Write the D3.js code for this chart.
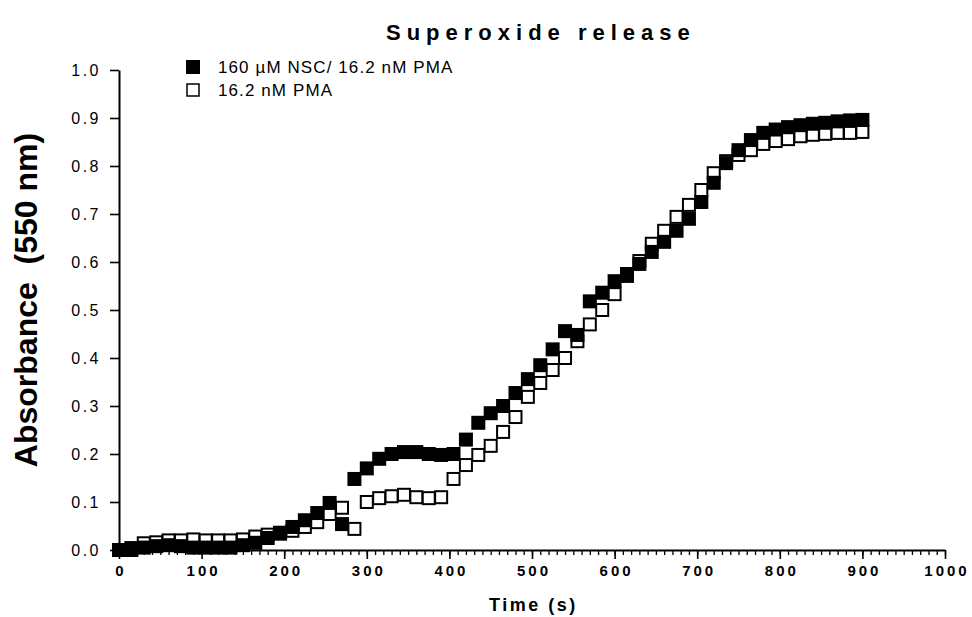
<!DOCTYPE html>
<html>
<head>
<meta charset="utf-8">
<script src="https://cdn.jsdelivr.net/npm/d3@7"></script>
<style>
  body { margin: 0; background: #fff; }
  svg { display: block; font-family: "Liberation Sans", Arial, sans-serif; }
</style>
</head>
<body>
<div id="chart"></div>
<script>
// sampling times (s)
var times = [0, 15, 30, 45, 60, 75, 90, 105, 120, 135, 150, 165, 180, 195, 210,
    225, 240, 255, 270, 285, 300, 315, 330, 345, 360, 375, 390, 405, 420, 435,
    450, 465, 480, 495, 510, 525, 540, 555, 570, 585, 600, 615, 630, 645, 660,
    675, 690, 705, 720, 735, 750, 765, 780, 795, 810, 825, 840, 855, 870, 885, 900];

// 160 uM NSC / 16.2 nM PMA (filled squares)
var nscPma = [0.000, 0.000, 0.005, 0.008, 0.010, 0.008, 0.005, 0.005, 0.005, 0.005,
    0.010, 0.015, 0.025, 0.036, 0.048, 0.062, 0.077, 0.098, 0.054, 0.148,
    0.170, 0.190, 0.200, 0.204, 0.204, 0.200, 0.198, 0.200, 0.230, 0.265,
    0.285, 0.300, 0.327, 0.356, 0.385, 0.418, 0.456, 0.448, 0.518, 0.536,
    0.560, 0.575, 0.596, 0.621, 0.642, 0.665, 0.690, 0.725, 0.765, 0.806,
    0.833, 0.854, 0.869, 0.876, 0.881, 0.885, 0.888, 0.890, 0.893, 0.895, 0.896];

// 16.2 nM PMA (open squares)
var pmaOnly = [0.000, 0.004, 0.014, 0.016, 0.020, 0.020, 0.022, 0.020, 0.020, 0.020,
    0.022, 0.028, 0.032, 0.034, 0.040, 0.048, 0.058, 0.075, 0.088, 0.044,
    0.100, 0.108, 0.112, 0.115, 0.110, 0.108, 0.110, 0.148, 0.177, 0.198,
    0.217, 0.246, 0.277, 0.319, 0.348, 0.375, 0.400, 0.435, 0.470, 0.500,
    0.533, 0.571, 0.602, 0.638, 0.665, 0.694, 0.719, 0.750, 0.785, 0.810,
    0.823, 0.833, 0.846, 0.852, 0.856, 0.862, 0.865, 0.867, 0.869, 0.869, 0.871];

var seriesNames = ["160 \u00b5M NSC/ 16.2 nM PMA", "16.2 nM PMA"];
var xTicks = [0, 100, 200, 300, 400, 500, 600, 700, 800, 900, 1000];
var yTicks = [0, 0.1, 0.2, 0.3, 0.4, 0.5, 0.6, 0.7, 0.8, 0.9, 1.0];

var svgWidth = 972;
var svgHeight = 617;
var margin = { top: 70, right: 27, bottom: 67, left: 119 };
var width = svgWidth - margin.left - margin.right;
var height = svgHeight - margin.top - margin.bottom;
var sq = 14;

var svg = d3.select("#chart")
    .append("svg")
    .attr("width", svgWidth)
    .attr("height", svgHeight);

var chartGroup = svg.append("g")
    .attr("transform", `translate(${margin.left}, ${margin.top})`);

var xScale = d3.scaleLinear().domain([0, 1000]).range([0, width]);
var yScale = d3.scaleLinear().domain([0, 1]).range([height, 0]);

// minor x ticks every 10 s
chartGroup.append("g")
    .attr("transform", `translate(0, ${height})`)
    .call(d3.axisBottom(xScale).tickValues(d3.range(0, 1001, 10)).tickSize(5).tickFormat(""))
    .call(g => g.select(".domain").remove())
    .call(g => g.selectAll("line").attr("stroke-width", 1.3));

// x axis
var xAxis = chartGroup.append("g")
    .attr("transform", `translate(0, ${height})`)
    .call(d3.axisBottom(xScale).tickValues(xTicks).tickFormat(d3.format("d"))
        .tickSize(9).tickSizeOuter(0).tickPadding(6));
xAxis.select(".domain").attr("stroke-width", 2);
xAxis.selectAll("line").attr("stroke-width", 1.6);
xAxis.selectAll("text")
    .attr("font-size", 15)
    .attr("font-weight", "bold")
    .attr("letter-spacing", "3px")
    .attr("dx", "1.5px")
    .attr("fill", "#000");

// y axis
var yAxis = chartGroup.append("g")
    .call(d3.axisLeft(yScale).tickValues(yTicks).tickFormat(d3.format(".1f"))
        .tickSize(9).tickSizeOuter(0).tickPadding(9));
yAxis.select(".domain").attr("stroke-width", 2);
yAxis.selectAll("line").attr("stroke-width", 1.6);
yAxis.selectAll("text")
    .attr("font-size", 16)
    .attr("letter-spacing", "2.5px")
    .attr("fill", "#000");

// open squares (PMA only), filled set drawn over them
var openGroup = chartGroup.append("g");
openGroup.selectAll("rect")
    .data(times)
    .enter()
    .append("rect")
    .attr("x", (d, i) => xScale(d) - sq / 2 + 1)
    .attr("y", (d, i) => yScale(pmaOnly[i]) - sq / 2 + 1)
    .attr("width", sq - 2)
    .attr("height", sq - 2)
    .attr("fill", "#fff")
    .attr("stroke", "#000")
    .attr("stroke-width", 2);

var filledGroup = chartGroup.append("g");
filledGroup.selectAll("rect")
    .data(times)
    .enter()
    .append("rect")
    .attr("x", (d, i) => xScale(d) - sq / 2)
    .attr("y", (d, i) => yScale(nscPma[i]) - sq / 2)
    .attr("width", sq)
    .attr("height", sq)
    .attr("fill", "#000");

// legend
var legend = svg.append("g");
legend.append("rect")
    .attr("x", 186).attr("y", 60).attr("width", 14).attr("height", 14)
    .attr("fill", "#000");
legend.append("rect")
    .attr("x", 187).attr("y", 84).attr("width", 12).attr("height", 12)
    .attr("fill", "#fff").attr("stroke", "#000").attr("stroke-width", 1.5);
legend.selectAll("text")
    .data(seriesNames)
    .enter()
    .append("text")
    .attr("x", 218)
    .attr("y", (d, i) => 73 + i * 23)
    .attr("font-size", 17)
    .attr("letter-spacing", "1.1px")
    .text(d => d);

// title
svg.append("text")
    .attr("x", 386)
    .attr("y", 40)
    .attr("font-size", 22)
    .attr("font-weight", "bold")
    .attr("letter-spacing", "6px")
    .text("Superoxide release");

// axis titles
svg.append("text")
    .attr("x", 489)
    .attr("y", 611)
    .attr("font-size", 18)
    .attr("font-weight", "bold")
    .attr("letter-spacing", "2.5px")
    .text("Time (s)");

svg.append("text")
    .attr("transform", "translate(37, 300) rotate(-90)")
    .attr("text-anchor", "middle")
    .attr("font-size", 32)
    .attr("font-weight", "bold")
    .style("white-space", "pre")
    .text("Absorbance  (550 nm)");
</script>
</body>
</html>
